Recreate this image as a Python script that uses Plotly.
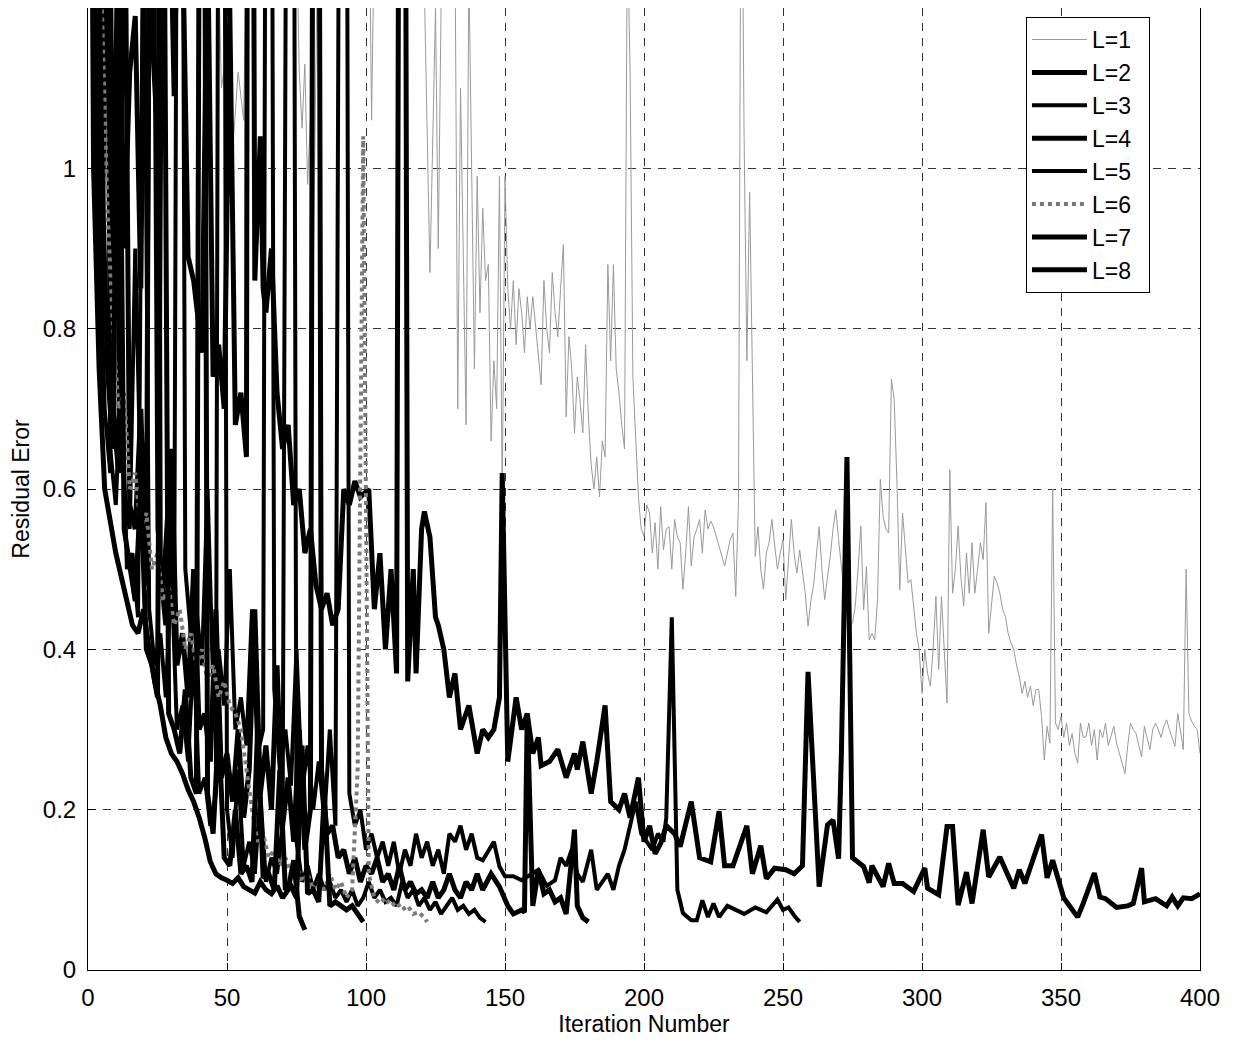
import plotly.graph_objects as go

# ---------------- data (iteration, residual error) ----------------
# L=1 : early sparse part, then one value per iteration from 141 to 400
L1_iter_early = [1, 20, 40, 46, 48, 50, 52, 54, 56, 58, 70, 75, 76, 77, 78, 79, 80, 81, 83, 95,
                 101, 102, 103, 112, 120, 123, 125, 126, 128, 132, 133, 134, 136, 137, 139, 140]
L1_err_early = [3.0, 2.5, 2.0, 1.4, 1.1, 1.15, 1.02, 1.12, 1.06, 1.5, 1.8, 1.3, 1.12, 1.05, 1.13, 0.98, 1.06, 0.86, 1.4, 1.6,
                1.4, 1.06, 1.3, 1.5, 1.4, 0.87, 1.2, 0.9, 1.5, 1.3, 0.70, 1.10, 0.68, 1.25, 0.75, 0.99]
L1_late_start = 141
L1_err_late = [
    0.82, 0.95, 0.86, 0.88, 0.66, 0.76, 0.70, 0.99, 0.59, 0.99,
    0.85, 0.80, 0.86, 0.78, 0.85, 0.82, 0.77, 0.84, 0.80, 0.84,
    0.80, 0.76, 0.73, 0.86, 0.80, 0.77, 0.87, 0.82, 0.79, 0.85,
    0.905, 0.69, 0.79, 0.75, 0.67, 0.74, 0.71, 0.67, 0.78, 0.69,
    0.63, 0.60, 0.64, 0.59, 0.66, 0.64, 0.88, 0.76, 0.88, 0.75,
    0.72, 0.68, 0.65, 1.30, 1.12, 0.74, 0.66, 0.59, 0.55, 0.541,
    0.58, 0.57, 0.52, 0.558, 0.50, 0.578, 0.524, 0.55, 0.553, 0.50,
    0.562, 0.54, 0.533, 0.475, 0.52, 0.578, 0.504, 0.54, 0.55, 0.562,
    0.52, 0.574, 0.55, 0.56, 0.553, 0.54, 0.53, 0.516, 0.504, 0.52,
    0.537, 0.545, 0.466, 0.587, 1.50, 1.04, 0.76, 0.97, 0.72, 0.516,
    0.553, 0.50, 0.475, 0.52, 0.533, 0.562, 0.53, 0.50, 0.52, 0.537,
    0.462, 0.51, 0.562, 0.52, 0.495, 0.524, 0.50, 0.47, 0.429, 0.46,
    0.48, 0.52, 0.553, 0.50, 0.462, 0.49, 0.516, 0.55, 0.574, 0.537,
    0.50, 0.47, 0.45, 0.429, 0.433, 0.454, 0.50, 0.554, 0.449, 0.503,
    0.412, 0.42, 0.412, 0.462, 0.612, 0.566, 0.55, 0.545, 0.737, 0.712,
    0.607, 0.474, 0.57, 0.53, 0.483, 0.487, 0.45, 0.42, 0.399, 0.345,
    0.40, 0.37, 0.354, 0.40, 0.466, 0.375, 0.466, 0.391, 0.333, 0.624,
    0.47, 0.50, 0.554, 0.49, 0.454, 0.52, 0.47, 0.533, 0.47, 0.50,
    0.533, 0.512, 0.583, 0.42, 0.46, 0.491, 0.483, 0.47, 0.45, 0.441,
    0.42, 0.408, 0.40, 0.38, 0.366, 0.345, 0.36, 0.34, 0.354, 0.33,
    0.35, 0.35, 0.316, 0.262, 0.304, 0.283, 0.60, 0.308, 0.30, 0.316,
    0.29, 0.308, 0.28, 0.295, 0.27, 0.258, 0.308, 0.29, 0.291, 0.308,
    0.28, 0.30, 0.262, 0.30, 0.29, 0.308, 0.28, 0.291, 0.304, 0.283,
    0.27, 0.26, 0.245, 0.28, 0.308, 0.30, 0.295, 0.28, 0.266, 0.304,
    0.29, 0.275, 0.30, 0.308, 0.30, 0.29, 0.304, 0.312, 0.30, 0.29,
    0.279, 0.32, 0.30, 0.275, 0.50, 0.32, 0.31, 0.304, 0.30, 0.27,
]

L2_iter = [1, 3, 5, 7, 9, 11, 13, 15, 17, 19, 21, 23, 25, 26, 28, 31, 33, 36, 38, 40,
           41, 43, 45, 47, 49, 51, 53, 55, 57, 58, 60, 61, 62, 63, 64, 66, 68, 70, 72, 74,
           76, 78, 80, 82, 84, 86, 88, 90, 92, 94, 96, 98, 101, 103, 105, 107, 109, 111, 113, 115,
           117, 118, 120, 121, 123, 125, 126, 128, 130, 132, 134, 137, 140,
           142, 144, 146, 148, 149, 151, 154, 156, 158, 160, 162, 163, 166, 169, 172, 175, 176, 178, 181, 183,
           186, 188, 191, 193, 195, 198, 200, 202, 204, 206, 208, 211, 213, 217, 220, 224, 227, 229, 232, 237,
           239, 242, 244, 247, 251, 254, 257, 259, 263, 266, 268, 270, 271, 273, 275, 279, 281, 282, 286, 288,
           290, 293, 297, 301, 302, 306, 309, 311, 313, 316, 318, 322, 324, 328, 333, 335, 337, 339, 343, 345,
           347, 351, 356, 358, 360, 362, 364, 366, 370, 374, 376, 379, 380, 384, 388, 390, 392, 394, 397, 400]
L2_err = [8.0, 2.0, 1.05, 1.5, 0.95, 1.3, 0.90, 1.12, 1.19, 0.85, 1.6, 1.17, 1.04, 1.10, 1.6, 1.09, 1.5, 0.89, 0.86, 0.80,
          0.77, 1.3, 0.74, 0.78, 0.70, 1.2, 0.68, 0.72, 0.64, 3.0, 0.86, 0.95, 1.04, 0.85, 0.82, 0.90, 0.72, 0.65, 0.68, 0.58,
          0.60, 0.52, 0.55, 0.48, 0.45, 0.47, 0.43, 0.45, 0.60, 0.58, 0.61, 0.59, 0.60, 0.45, 0.52, 0.40, 0.50, 0.37, 3.0, 0.36,
          0.50, 0.37, 0.55, 0.572, 0.54, 0.44, 0.43, 0.40, 0.34, 0.37, 0.30, 0.33, 0.27,
          0.30, 0.29, 0.30, 0.34, 0.62, 0.26, 0.34, 0.30, 0.32, 0.27, 0.29, 0.255, 0.26, 0.275, 0.24, 0.27, 0.25, 0.285, 0.22, 0.26,
          0.33, 0.21, 0.20, 0.22, 0.19, 0.24, 0.16, 0.18, 0.145, 0.158, 0.18, 0.17, 0.154, 0.21, 0.14, 0.135, 0.198, 0.13, 0.13, 0.18,
          0.12, 0.155, 0.114, 0.127, 0.125, 0.12, 0.13, 0.372, 0.104, 0.181, 0.187, 0.139, 0.27, 0.64, 0.14, 0.129, 0.109, 0.13, 0.104, 0.133,
          0.108, 0.108, 0.098, 0.127, 0.102, 0.094, 0.179, 0.179, 0.081, 0.122, 0.083, 0.175, 0.116, 0.141, 0.102, 0.125, 0.108, 0.127, 0.169, 0.115,
          0.137, 0.09, 0.066, 0.083, 0.102, 0.121, 0.091, 0.089, 0.078, 0.08, 0.083, 0.127, 0.085, 0.089, 0.08, 0.091, 0.08, 0.09, 0.089, 0.095]

L3_iter = [1, 3, 4, 6, 8, 9, 11, 13, 15, 17, 19, 21, 23, 25, 27, 29, 31, 33, 35, 37,
           39, 41, 43, 45, 47, 49, 51, 53, 55, 57, 59, 61, 63, 65, 67, 69, 71, 73, 75, 77,
           79, 81, 83, 85, 87, 89, 92, 94, 96, 98,
           100, 102, 104, 106, 108, 110, 112, 114, 116, 118, 120, 122, 124, 126, 128, 130, 132, 134, 136, 138, 140,
           142, 146, 148, 150, 153, 156, 160, 162, 165, 168, 170, 172, 174, 176, 178, 181, 183, 185, 187, 189,
           191, 193, 195, 197, 199, 201, 203, 205, 207, 208, 210, 212, 214, 217, 219, 221, 223, 225, 227, 230,
           233, 236, 240, 244, 246, 248, 250, 252, 254, 256]
L3_err = [7.0, 1.6, 0.95, 0.70, 0.62, 2.0, 0.75, 0.60, 0.55, 0.90, 0.60, 0.52, 1.8, 0.55, 0.48, 0.60, 0.44, 2.5, 0.50, 0.42,
          0.45, 0.38, 0.60, 0.36, 0.40, 0.33, 0.50, 0.30, 0.34, 0.28, 0.45, 0.27, 0.30, 3.0, 0.35, 0.25, 0.30, 0.23, 0.40, 0.22,
          0.28, 0.20, 0.26, 0.19, 0.30, 0.18, 3.0, 0.22, 0.18, 0.20,
          0.15, 0.17, 0.14, 0.16, 0.13, 0.16, 0.12, 0.15, 0.13, 0.17, 0.14, 0.16, 0.13, 0.15, 0.12, 0.17, 0.16, 0.18, 0.15, 0.17, 0.14,
          0.137, 0.16, 0.129, 0.117, 0.117, 0.112, 0.12, 0.125, 0.105, 0.112, 0.14, 0.13, 0.15, 0.12, 0.11, 0.15, 0.10, 0.11, 0.12, 0.10,
          0.13, 0.15, 0.18, 0.21, 0.17, 0.16, 0.15, 0.17, 0.16, 0.19, 0.44, 0.10, 0.071, 0.062, 0.062, 0.087, 0.066, 0.083, 0.066, 0.08,
          0.075, 0.07, 0.078, 0.072, 0.08, 0.088, 0.075, 0.078, 0.068, 0.06]

L4_iter = [1, 3, 5, 7, 9, 11, 13, 15, 17, 19, 21, 24, 26, 28, 30, 32, 34, 36, 38, 40,
           42, 44, 46, 48, 50, 52, 54, 56, 58, 60, 62, 64, 66, 68, 70, 72, 74, 76, 78, 80,
           82, 84, 86,
           88, 90, 92, 94, 96, 98, 100, 102, 104, 106, 108, 110, 112, 114, 116, 118, 120, 122, 124, 126,
           128, 130, 132, 134, 136, 138, 140, 142,
           145, 148, 151, 153, 156, 157, 158, 160, 162, 164, 166, 168, 170, 172, 175, 176, 178, 180]
L4_err = [6.0, 1.3, 0.80, 1.6, 0.70, 0.62, 1.5, 0.58, 0.55, 0.70, 0.48, 3.0, 0.50, 0.43, 0.65, 0.38, 0.42, 0.34, 0.50, 0.30,
          0.32, 0.26, 0.45, 0.24, 0.27, 0.21, 0.30, 0.19, 0.25, 0.45, 0.22, 0.28, 0.20, 0.38, 0.18, 0.24, 0.16, 0.30, 0.15, 0.20,
          3.0, 0.25, 0.17,
          0.18, 0.14, 0.15, 0.12, 0.14, 0.11, 0.13, 0.12, 0.14, 0.11, 0.12, 0.10, 0.13, 0.10, 0.11, 0.095, 0.10, 0.09, 0.11, 0.09,
          0.10, 0.12, 0.10, 0.09, 0.11, 0.10, 0.12, 0.10,
          0.12, 0.104, 0.08, 0.07, 0.075, 0.072, 0.32, 0.08, 0.125, 0.095, 0.10, 0.085, 0.09, 0.07, 0.175, 0.08, 0.065, 0.06]

L5_iter = [1, 3, 5, 6, 8, 10, 12, 14, 16, 18, 20, 22, 24, 26, 28, 30, 32, 34, 36, 38,
           40, 42, 44, 46, 48, 50, 52, 54, 56, 58, 60, 62, 64, 66, 68, 70, 73, 75,
           77, 79, 81, 83, 85, 87, 89, 91, 93, 95, 97, 99, 101, 103, 105, 107, 109, 111, 113, 115,
           117, 119, 121, 123, 125, 127, 129, 131, 133, 135, 137, 139, 141, 143]
L5_err = [5.0, 1.0, 0.72, 1.8, 0.65, 0.58, 0.75, 0.50, 0.52, 0.44, 1.4, 0.45, 0.38, 0.42, 0.34, 0.50, 0.30, 0.33, 0.26, 0.40,
          0.22, 0.24, 0.18, 0.22, 3.0, 0.20, 0.14, 0.25, 0.13, 0.16, 0.12, 0.22, 0.11, 0.14, 0.12, 0.18, 3.0, 0.16,
          0.11, 0.13, 0.10, 0.12, 0.10, 0.11, 0.09, 0.10, 0.085, 0.10, 0.08, 0.09, 0.11, 0.09, 0.10, 0.085, 0.09, 0.08, 0.11, 0.09,
          0.10, 0.08, 0.09, 0.075, 0.085, 0.07, 0.08, 0.09, 0.075, 0.08, 0.07, 0.075, 0.065, 0.06]

L6_iter = [1, 3, 5, 7, 9, 11, 13, 15, 17, 19, 21, 23, 25, 27, 29, 31, 33, 35, 37, 39,
           41, 43, 45, 47, 49, 51, 53, 55, 57, 59, 61, 63, 65, 67, 69, 71, 73, 75, 77, 79,
           81, 83, 85, 87, 89, 91, 93, 95, 97, 99, 101, 103, 105, 107, 109, 111, 113, 115, 117, 119,
           121, 122]
L6_err = [5.0, 1.7, 1.2, 0.95, 0.80, 0.70, 0.72, 0.60, 0.62, 0.55, 0.57, 0.50, 0.52, 0.46, 0.48, 0.43, 0.45, 0.40, 0.42, 0.38,
          0.40, 0.36, 0.38, 0.34, 0.36, 0.33, 0.32, 0.30, 0.25, 0.20, 0.16, 0.17, 0.14, 0.15, 0.13, 0.14, 0.12, 0.13, 0.11, 0.12,
          0.10, 0.11, 0.10, 0.12, 0.10, 0.11, 0.09, 0.10, 0.25, 1.04, 0.12, 0.09, 0.083, 0.09, 0.08, 0.085, 0.075, 0.08, 0.07, 0.072,
          0.065, 0.06]

L7_iter = [1, 3, 5, 7, 9, 11, 13, 15, 17, 19, 21, 23, 25, 27, 29, 31, 33, 35, 37, 39,
           41, 43, 45, 47, 49, 51, 53, 55, 57, 59, 61, 63, 65, 67, 69, 71, 73, 75, 77, 79,
           81, 83, 85, 87, 89, 91, 93, 95, 97, 99]
L7_err = [6.0, 1.5, 1.0, 0.75, 0.65, 1.3, 0.55, 0.50, 0.46, 0.60, 0.40, 0.38, 0.34, 1.6, 0.32, 0.30, 0.27, 0.35, 0.24, 0.22,
          2.5, 0.22, 0.17, 0.30, 0.14, 0.13, 0.20, 0.12, 0.13, 0.11, 0.30, 0.115, 0.12, 0.10, 0.25, 0.10, 0.105, 0.09, 0.28, 0.095,
          0.10, 0.085, 0.22, 0.08, 0.085, 0.08, 0.075, 0.08, 0.07, 0.06]

L8_iter = [1, 2, 4, 6, 8, 10, 12, 14, 16, 18, 20, 22, 24, 26, 28, 30, 32, 34, 36, 38,
           40, 42, 44, 46, 48, 50, 52, 54, 56, 58, 60, 62, 64, 66, 68, 70, 72, 74, 76, 78]
L8_err = [1.6, 1.0, 0.75, 0.60, 0.56, 0.52, 0.49, 0.46, 0.43, 0.42, 0.45, 0.40, 0.36, 0.33, 0.29, 0.27, 0.26, 0.245, 0.225, 0.21,
          0.19, 0.165, 0.135, 0.12, 0.115, 0.112, 0.108, 0.115, 0.104, 0.10, 0.096, 0.11, 0.10, 0.095, 0.105, 0.09, 0.10, 0.137, 0.067, 0.05]

x_ticks = [0, 50, 100, 150, 200, 250, 300, 350, 400]
y_ticks = [0, 0.2, 0.4, 0.6, 0.8, 1.0]
y_tick_text = ["0", "0.2", "0.4", "0.6", "0.8", "1"]
legend_names = ["L=1", "L=2", "L=3", "L=4", "L=5", "L=6", "L=7", "L=8"]

# ---------------- figure ----------------
L1_iter = L1_iter_early + [L1_late_start + i for i in range(len(L1_err_late))]
L1_err = L1_err_early + L1_err_late

series_data = [(L1_iter, L1_err), (L2_iter, L2_err), (L3_iter, L3_err), (L4_iter, L4_err),
               (L5_iter, L5_err), (L6_iter, L6_err), (L7_iter, L7_err), (L8_iter, L8_err)]
line_styles = [
    dict(color="#9a9a9a", width=1),
    dict(color="black", width=5),
    dict(color="black", width=4),
    dict(color="black", width=5),
    dict(color="black", width=4),
    dict(color="#7a7a7a", width=4, dash="dot"),
    dict(color="black", width=5),
    dict(color="black", width=5),
]

fig = go.Figure()
for name, (xs, ys), line in zip(legend_names, series_data, line_styles):
    fig.add_trace(go.Scatter(x=xs, y=ys, mode="lines", name=name + "\u00a0\u00a0", line=line))

font_family = "Liberation Sans, Arial, Helvetica, sans-serif"
fig.update_layout(
    width=1230, height=1034,
    margin=dict(l=80, r=38, t=0, b=72),
    paper_bgcolor="white", plot_bgcolor="white",
    font=dict(family=font_family, size=24, color="black"),
    showlegend=True,
    legend=dict(
        x=0.955, y=0.9906, xanchor="right", yanchor="top",
        bgcolor="white", bordercolor="black", borderwidth=1,
        font=dict(size=23), itemwidth=55,
    ),
)
axis_common = dict(
    showline=True, linecolor="black", linewidth=1, mirror=True,
    showgrid=True, gridcolor="#333333", gridwidth=1, griddash="8px,7px",
    zeroline=False, ticks="inside", ticklen=7, tickcolor="black",
    tickfont=dict(size=24, color="black"), automargin=False,
)
fig.update_xaxes(range=[0, 400], tickvals=x_ticks, ticklabelstandoff=6,
                 title=dict(text="Iteration Number", font=dict(size=23), standoff=6),
                 **axis_common)
fig.update_yaxes(range=[0, 1.2], tickvals=y_ticks, ticktext=y_tick_text, ticklabelstandoff=6,
                 title=dict(text="Residual Eror", font=dict(size=23), standoff=12),
                 **axis_common)

fig.write_html("out.html")
